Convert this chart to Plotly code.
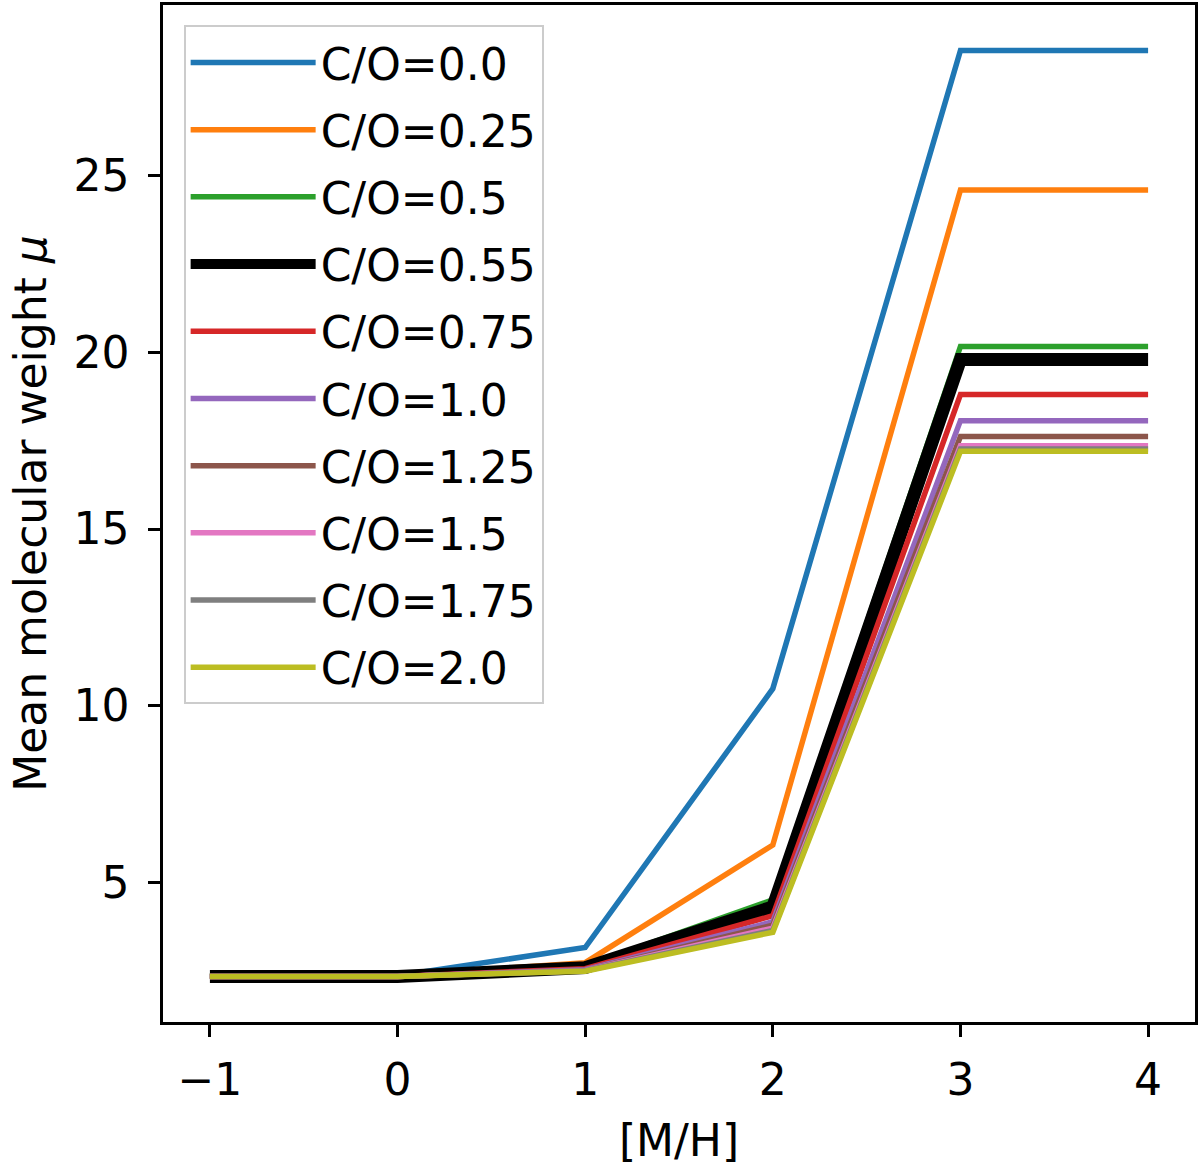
import plotly.graph_objects as go

metallicity = [-1, 0, 1, 2, 3, 4]
co_labels = ["C/O=0.0", "C/O=0.25", "C/O=0.5", "C/O=0.55", "C/O=0.75",
             "C/O=1.0", "C/O=1.25", "C/O=1.5", "C/O=1.75", "C/O=2.0"]
mu_co_000 = [2.35, 2.35, 3.15, 10.48, 28.55, 28.55]
mu_co_025 = [2.35, 2.35, 2.72, 6.05, 24.6, 24.6]
mu_co_050 = [2.35, 2.35, 2.62, 4.5, 20.17, 20.17]
mu_co_055 = [2.33, 2.33, 2.58, 4.3, 19.8, 19.8]
mu_co_075 = [2.33, 2.33, 2.55, 4.05, 18.81, 18.81]
mu_co_100 = [2.33, 2.33, 2.52, 3.88, 18.07, 18.07]
mu_co_125 = [2.33, 2.33, 2.5, 3.78, 17.62, 17.62]
mu_co_150 = [2.33, 2.33, 2.5, 3.7, 17.36, 17.36]
mu_co_175 = [2.33, 2.33, 2.49, 3.63, 17.27, 17.27]
mu_co_200 = [2.33, 2.33, 2.48, 3.58, 17.2, 17.2]

series = [mu_co_000, mu_co_025, mu_co_050, mu_co_055, mu_co_075,
          mu_co_100, mu_co_125, mu_co_150, mu_co_175, mu_co_200]
colors = ["#1f77b4", "#ff7f0e", "#2ca02c", "#000000", "#d62728",
          "#9467bd", "#8c564b", "#e377c2", "#7f7f7f", "#bcbd22"]
widths = [5.5, 5.5, 5.5, 13, 5.5, 5.5, 5.5, 5.5, 5.5, 5.5]

font = "DejaVu Sans"
fig = go.Figure()
for i, (lab, ys) in enumerate(zip(co_labels, series)):
    fig.add_trace(go.Scatter(
        x=metallicity, y=ys, mode="lines", name=lab,
        line=dict(color=colors[i], width=widths[i]),
        legendgroup=str(i),
    ))

axis_common = dict(
    showline=True, linecolor="black", linewidth=2.5, mirror=True,
    ticks="outside", ticklen=12, tickwidth=2.5, tickcolor="black",
    showgrid=False, zeroline=False,
    tickfont=dict(family=font, size=44, color="black"),
)
fig.update_xaxes(range=[-1.25, 4.25], tickvals=[-1, 0, 1, 2, 3, 4],
                 ticktext=["\u22121", "0", "1", "2", "3", "4"],
                 ticklabelstandoff=5,
                 title=dict(text="[M/H]", font=dict(family=font, size=44, color="black"), standoff=22),
                 **axis_common)
fig.update_yaxes(range=[1.04, 29.84], tickvals=[5, 10, 15, 20, 25],
                 ticklabelstandoff=10,
                 title=dict(text="Mean molecular weight <i>\u03bc</i>",
                            font=dict(family=font, size=44, color="black"), standoff=14),
                 **axis_common)

fig.update_layout(
    width=1200, height=1167,
    margin=dict(l=163, r=4, t=2, b=145),
    plot_bgcolor="white", paper_bgcolor="white",
    font=dict(family=font, size=44, color="black"),
    legend=dict(x=0.02, y=0.98, xanchor="left", yanchor="top",
                bgcolor="rgba(255,255,255,0.8)", bordercolor="#cccccc", borderwidth=2,
                font=dict(family=font, size=44, color="black"),
                itemwidth=125, tracegroupgap=7),
)
fig.write_html("out.html")
